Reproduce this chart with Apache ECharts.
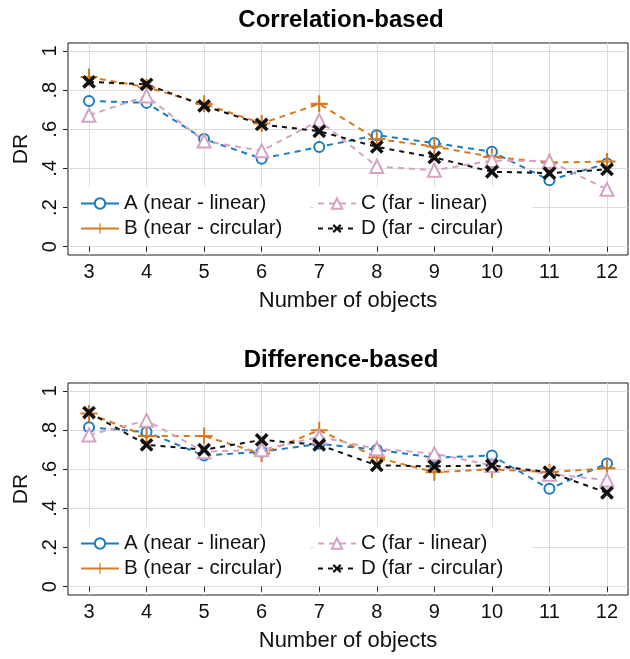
<!DOCTYPE html>
<html>
<head>
<meta charset="utf-8">
<script src="https://cdn.jsdelivr.net/npm/echarts@6/dist/echarts.min.js"></script>
<style>
  html, body { margin: 0; padding: 0; background: #fff; }
  #chart { width: 630px; height: 659px; }
</style>
</head>
<body>
<div id="chart"></div>
<script>
    // number of objects
    var objects = [3, 4, 5, 6, 7, 8, 9, 10, 11, 12];
    var yTicks = [0, 0.2, 0.4, 0.6, 0.8, 1];

    // Correlation-based
    var corrA = [0.745, 0.735, 0.55, 0.45, 0.51, 0.57, 0.53, 0.485, 0.34, 0.425];
    var corrB = [0.867, 0.815, 0.73, 0.63, 0.73, 0.55, 0.512, 0.459, 0.43, 0.435];
    var corrC = [0.672, 0.77, 0.54, 0.49, 0.645, 0.41, 0.391, 0.44, 0.437, 0.293];
    var corrD = [0.842, 0.83, 0.72, 0.625, 0.59, 0.51, 0.456, 0.383, 0.376, 0.395];

    // Difference-based
    var diffA = [0.815, 0.79, 0.67, 0.69, 0.73, 0.70, 0.66, 0.67, 0.50, 0.63];
    var diffB = [0.885, 0.77, 0.77, 0.68, 0.80, 0.66, 0.585, 0.60, 0.585, 0.605];
    var diffC = [0.775, 0.85, 0.69, 0.70, 0.765, 0.705, 0.68, 0.62, 0.575, 0.545];
    var diffD = [0.89, 0.725, 0.70, 0.75, 0.725, 0.62, 0.615, 0.62, 0.585, 0.48];

    var names = ['A (near - linear)', 'B (near - circular)', 'C (far - linear)', 'D (far - circular)'];
    var colors = ['#1b7cc0', '#d9791e', '#d6a2c4', '#111111'];

    var font = 'Liberation Sans, Arial, Helvetica, sans-serif';
    var plusPath = 'path://M4.4,0 L5.6,0 L5.6,4.4 L10,4.4 L10,5.6 L5.6,5.6 L5.6,10 L4.4,10 L4.4,5.6 L0,5.6 L0,4.4 L4.4,4.4 Z';
    var crossPath = 'path://M3.9,0 L6.1,0 L6.1,3.9 L10,3.9 L10,6.1 L6.1,6.1 L6.1,10 L3.9,10 L3.9,6.1 L0,6.1 L0,3.9 L3.9,3.9 Z';

    function pairs(vals) {
        return objects.map(function (x, i) { return [x, vals[i]]; });
    }

    var myChart = echarts.init(document.getElementById('chart'));

    var offsets = [0, 340];
    var grids = [], xAxes = [], yAxes = [], titles = [], legends = [], series = [];
    var sets = [[corrA, corrB, corrC, corrD], [diffA, diffB, diffC, diffD]];
    var titleText = ['Correlation-based', 'Difference-based'];

    offsets.forEach(function (off, g) {
        grids.push({
            left: 68, right: 2, top: 43 + off, height: 212,
            show: true, borderColor: '#1a1a1a', borderWidth: 1, backgroundColor: '#fff'
        });
        titles.push({
            text: titleText[g], left: 336, top: 3 + off, textAlign: 'center',
            textStyle: { fontFamily: font, fontSize: 24, fontWeight: 'bold', color: '#000' }
        });
        xAxes.push({
            type: 'value', gridIndex: g, min: 2.635, max: 12.365,
            name: 'Number of objects', nameLocation: 'middle', nameGap: 35,
            nameTextStyle: { fontFamily: font, fontSize: 22, color: '#111' },
            axisLine: { show: false },
            axisTick: { show: true, length: 5, customValues: objects, lineStyle: { color: '#222' } },
            axisLabel: { customValues: objects, margin: 7, fontFamily: font, fontSize: 20, color: '#111' },
            splitLine: { show: true, lineStyle: { color: '#dcdcdc', width: 1 } }
        });
        yAxes.push({
            type: 'value', gridIndex: g, min: -0.0424, max: 1.041,
            name: 'DR', nameLocation: 'middle', nameGap: 29,
            nameTextStyle: { fontFamily: font, fontSize: 21, color: '#111' },
            axisLine: { show: false },
            axisTick: { show: true, length: 5, customValues: yTicks, lineStyle: { color: '#222' } },
            axisLabel: {
                customValues: yTicks, rotate: 90, margin: 8,
                fontFamily: font, fontSize: 20, color: '#111',
                formatter: function (v) {
                    if (v === 0) return '0';
                    if (v === 1) return '1';
                    return String(Math.round(v * 10) / 10).replace(/^0/, '');
                }
            },
            splitLine: { show: true, lineStyle: { color: '#dcdcdc', width: 1 } }
        });

        var legendText = { fontFamily: font, fontSize: 20.5, color: '#111' };
        legends.push({
            orient: 'vertical', left: 69, top: 187 + off,
            padding: [6, 28, 6, 11], itemGap: 4, itemWidth: 38, itemHeight: 13,
            backgroundColor: '#fff', selectedMode: false, textStyle: legendText,
            data: [
                { name: names[0], lineStyle: { type: 'solid' } },
                { name: names[1], lineStyle: { type: 'solid' } }
            ]
        });
        legends.push({
            orient: 'vertical', left: 313, top: 187 + off,
            padding: [6, 29, 6, 4], itemGap: 4, itemWidth: 38, itemHeight: 13,
            backgroundColor: '#fff', selectedMode: false, textStyle: legendText,
            data: [{ name: names[2] }, { name: names[3] }]
        });

        var vals = sets[g];
        series.push({
            name: names[0], type: 'line', xAxisIndex: g, yAxisIndex: g,
            data: pairs(vals[0]), symbol: 'emptyCircle', symbolSize: 10,
            lineStyle: { color: colors[0], width: 2, type: [6, 5] },
            itemStyle: { color: colors[0], borderWidth: 2 }
        });
        series.push({
            name: names[1], type: 'line', xAxisIndex: g, yAxisIndex: g,
            data: pairs(vals[1]), symbol: plusPath, symbolSize: 17,
            lineStyle: { color: colors[1], width: 2, type: [6, 5] },
            itemStyle: { color: colors[1], borderWidth: 0 }
        });
        series.push({
            name: names[2], type: 'line', xAxisIndex: g, yAxisIndex: g,
            data: pairs(vals[2]), symbol: 'emptyTriangle', symbolSize: 13,
            lineStyle: { color: colors[2], width: 2, type: [6, 5] },
            itemStyle: { color: colors[2], borderWidth: 2 }
        });
        series.push({
            name: names[3], type: 'line', xAxisIndex: g, yAxisIndex: g,
            data: pairs(vals[3]), symbol: crossPath, symbolSize: 16, symbolRotate: 45,
            lineStyle: { color: colors[3], width: 2, type: [5, 5] },
            itemStyle: { color: colors[3], borderWidth: 0 }
        });
    });

    var option = {
        animation: false,
        backgroundColor: '#fff',
        title: titles,
        grid: grids,
        xAxis: xAxes,
        yAxis: yAxes,
        legend: legends,
        series: series
    };

    myChart.setOption(option);
</script>
</body>
</html>
